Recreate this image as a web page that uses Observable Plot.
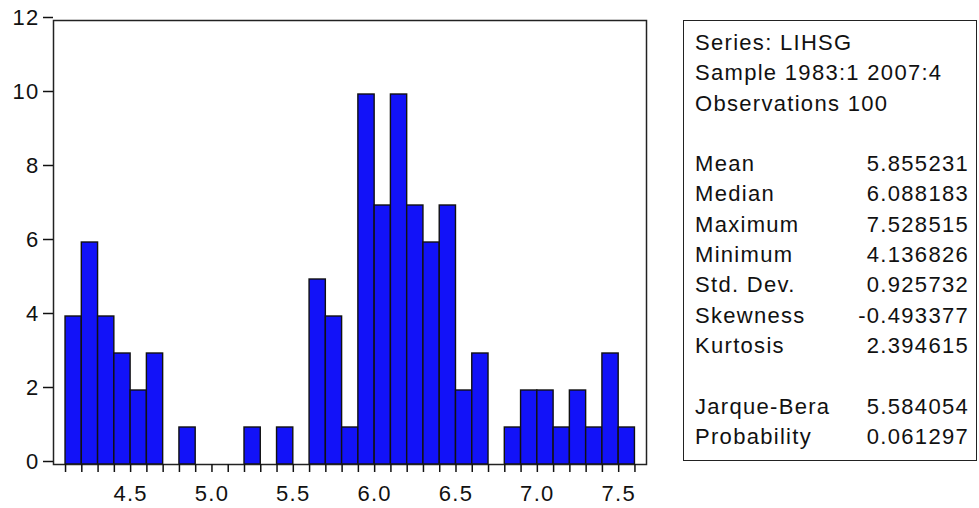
<!DOCTYPE html>
<html>
<head>
<meta charset="utf-8">
<script src="https://cdn.jsdelivr.net/npm/d3@7"></script>
<script src="https://cdn.jsdelivr.net/npm/@observablehq/plot@0.6"></script>
<style>
  html, body { margin: 0; padding: 0; background: #fff; }
  #wrap { position: relative; width: 979px; height: 508px; font-family: "Liberation Sans", Arial, sans-serif; }
  #chart { position: absolute; left: 0; top: 0; }
  #stats {
    position: absolute; left: 683px; top: 20px; width: 294px; height: 441px;
    box-sizing: border-box; border: 1.5px solid #222; background: #fff;
    padding: 7px 7px 0 11px; font-size: 22px; letter-spacing: 1.3px; color: #111;
  }
  .row { display: flex; justify-content: space-between; height: 30.3px; line-height: 30.3px; white-space: pre; }
</style>
</head>
<body>
<div id="wrap">
  <div id="chart"></div>
  <div id="stats"></div>
</div>
<script>
// Histogram of LIHSG: bin lower edges (width 0.1) and counts
const binLower = [4.1, 4.2, 4.3, 4.4, 4.5, 4.6, 4.7, 4.8, 4.9, 5.0, 5.1, 5.2, 5.3, 5.4, 5.5, 5.6, 5.7, 5.8,
                  5.9, 6.0, 6.1, 6.2, 6.3, 6.4, 6.5, 6.6, 6.7, 6.8, 6.9, 7.0, 7.1, 7.2, 7.3, 7.4, 7.5];
const counts   = [4, 6, 4, 3, 2, 3, 0, 1, 0, 0, 0, 1, 0, 1, 0, 5, 4, 1,
                  10, 7, 10, 7, 6, 7, 2, 3, 0, 1, 2, 2, 1, 2, 1, 3, 1];
const binWidth = 0.1;

// axis ticks
const xTicks = [4.1, 4.2, 4.3, 4.4, 4.5, 4.6, 4.7, 4.8, 4.9, 5.0, 5.1, 5.2, 5.3, 5.4, 5.5, 5.6, 5.7, 5.8,
                5.9, 6.0, 6.1, 6.2, 6.3, 6.4, 6.5, 6.6, 6.7, 6.8, 6.9, 7.0, 7.1, 7.2, 7.3, 7.4, 7.5, 7.6];
const xLabels = ["4.5", "5.0", "5.5", "6.0", "6.5", "7.0", "7.5"];
const yTicks = [0, 2, 4, 6, 8, 10, 12];

// descriptive statistics panel
const statLabels = ["Series: LIHSG", "Sample 1983:1 2007:4", "Observations 100", "",
                    "Mean", "Median", "Maximum", "Minimum", "Std. Dev.", "Skewness", "Kurtosis", "",
                    "Jarque-Bera", "Probability"];
const statValues = ["", "", "", "",
                    "5.855231", "6.088183", "7.528515", "4.136826", "0.925732", "-0.493377", "2.394615", "",
                    "5.584054", "0.061297"];

const bars = binLower.map((x, i) => ({x1: x, x2: +(x + binWidth).toFixed(2), count: counts[i]})).filter(d => d.count > 0);

const plot = Plot.plot({
  width: 660,
  height: 508,
  marginLeft: 53,
  marginRight: 14,
  marginTop: 20,
  marginBottom: 44,
  style: {fontFamily: "Liberation Sans, Arial, sans-serif", fontSize: "22px", letterSpacing: "1.3px", color: "#111", background: "transparent"},
  x: {domain: [4.026, 7.671]},
  y: {domain: [0, 12]},
  marks: [
    Plot.rectY(bars, {x1: "x1", x2: "x2", y1: 0, y2: "count", fill: "#1212f8", stroke: "#111", strokeWidth: 1.4}),
    Plot.frame({stroke: "#222", strokeWidth: 1.5}),
    Plot.axisX({ticks: xTicks, tickSize: 8, tickPadding: 13, strokeWidth: 1.5,
                tickFormat: d => xLabels.includes(d.toFixed(1)) ? d.toFixed(1) : "", label: null}),
    Plot.axisY({ticks: yTicks, tickSize: 10, tickPadding: 4, strokeWidth: 1.5, dy: -3,
                tickFormat: d => String(d), label: null})
  ]
});
document.getElementById("chart").appendChild(plot);

const stats = d3.select("#stats");
statLabels.forEach((lab, i) => {
  const row = stats.append("div").attr("class", "row");
  row.append("span").text(lab || " ");
  row.append("span").text(statValues[i]);
});
</script>
</body>
</html>
